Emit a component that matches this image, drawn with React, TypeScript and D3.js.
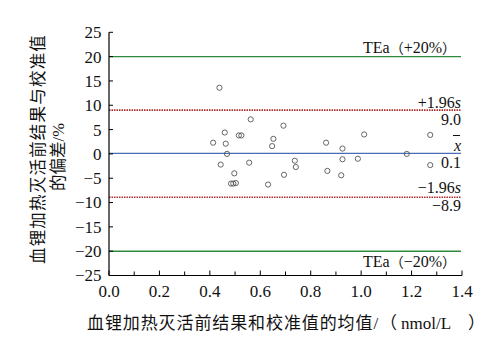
import React from "react";
import * as d3 from "d3";

const xTicks = [0, 0.2, 0.4, 0.6, 0.8, 1.0, 1.2, 1.4];
const yTicks = [25, 20, 15, 10, 5, 0, -5, -10, -15, -20, -25];
const pointX = [0.438, 0.562, 0.692, 0.459, 0.515, 0.525, 0.413, 0.463, 0.652, 0.647, 0.468, 0.443, 0.556, 0.497, 0.694, 0.484, 0.493, 0.503, 0.631, 1.012, 0.861, 0.926, 0.737, 0.741, 0.926, 0.987, 0.866, 0.921, 1.274, 1.181, 1.274];
const pointY = [13.6, 7.1, 5.8, 4.4, 3.8, 3.8, 2.3, 2.1, 3.1, 1.6, 0.0, -2.2, -1.8, -4.0, -4.3, -6.1, -6.1, -6.0, -6.3, 4.0, 2.3, 1.1, -1.4, -2.7, -1.1, -1.0, -3.5, -4.4, 3.9, 0.0, -2.3];
const meanBias = 0.1;
const upperLoA = 9.0;
const lowerLoA = -8.9;
const teaUpper = 20;
const teaLower = -20;

const serif = "'Liberation Serif', 'Times New Roman', serif";
const cjk = "'Noto Sans CJK SC', sans-serif";

export default function App() {
  const x = d3.scaleLinear().domain([0, 1.4]).range([109, 462]);
  const y = d3.scaleLinear().domain([-25, 25]).range([275.5, 32.3]);
  const minor = d3.range(0, 1.41, 0.1);
  const xEnd = 461;
  const fmt = (v: number) => (v < 0 ? "\u2212" + Math.abs(v) : String(v));
  const fs = 17;
  const lf = 16;
  return (
    <svg width={487} height={342} style={{ position: "absolute", left: 0, top: 0, background: "#fff" }} fontFamily={serif}>
      {/* reference lines */}
      <line x1={x(0)} x2={xEnd} y1={y(teaUpper)} y2={y(teaUpper)} stroke="#2e8b3e" strokeWidth={1.4} />
      <line x1={x(0)} x2={xEnd} y1={y(teaLower)} y2={y(teaLower)} stroke="#2e8b3e" strokeWidth={1.4} />
      <line x1={x(0)} x2={xEnd} y1={y(upperLoA)} y2={y(upperLoA)} stroke="#b22a2a" strokeWidth={1.6} strokeDasharray="1.5,1" />
      <line x1={x(0)} x2={xEnd} y1={y(lowerLoA)} y2={y(lowerLoA)} stroke="#b22a2a" strokeWidth={1.6} strokeDasharray="1.5,1" />
      <line x1={x(0)} x2={xEnd} y1={y(meanBias)} y2={y(meanBias)} stroke="#4a6db5" strokeWidth={1.4} />

      {/* points */}
      {pointX.map((px, i) => (
        <circle key={i} cx={x(px)} cy={y(pointY[i])} r={2.6} fill="none" stroke="#555" strokeWidth={0.9} />
      ))}

      {/* axes */}
      <line x1={x(0)} x2={x(0)} y1={y(25)} y2={y(-25)} stroke="#000" strokeWidth={1.2} />
      <line x1={x(0)} x2={x(1.4)} y1={y(-25)} y2={y(-25)} stroke="#000" strokeWidth={1.2} />
      {yTicks.map((t) => (
        <g key={t}>
          <line x1={x(0)} x2={x(0) + 4} y1={y(t)} y2={y(t)} stroke="#000" strokeWidth={1} />
          <text x={101.5} y={y(t)} dy="0.35em" textAnchor="end" fontSize={fs} fill="#111">{fmt(t)}</text>
        </g>
      ))}
      {minor.map((t, i) => (
        <line key={i} x1={x(t)} x2={x(t)} y1={y(-25)} y2={y(-25) - (i % 2 === 0 ? 5 : 4)} stroke="#000" strokeWidth={1} />
      ))}
      {xTicks.map((t) => (
        <text key={t} x={x(t)} y={296.5} textAnchor="middle" fontSize={fs} fill="#111">{t.toFixed(1)}</text>
      ))}

      {/* right-side labels */}
      <text x={xEnd - 5} y={53} textAnchor="end" fontSize={lf} fill="#111">
        <tspan>TEa</tspan><tspan fontFamily={cjk} fontSize={14}>（</tspan><tspan>+20%</tspan><tspan fontFamily={cjk} fontSize={14}>）</tspan>
      </text>
      <text x={xEnd} y={108} textAnchor="end" fontSize={lf} fill="#111">
        <tspan>+1.96</tspan><tspan fontStyle="italic">s</tspan>
      </text>
      <text x={xEnd} y={124.5} textAnchor="end" fontSize={lf} fill="#111">9.0</text>
      <line x1={xEnd - 8} x2={xEnd - 1} y1={135.5} y2={135.5} stroke="#111" strokeWidth={1} />
      <text x={xEnd} y={150.5} textAnchor="end" fontSize={lf} fontStyle="italic" fill="#111">x</text>
      <text x={xEnd} y={168} textAnchor="end" fontSize={lf} fill="#111">0.1</text>
      <text x={xEnd} y={193} textAnchor="end" fontSize={lf} fill="#111">
        <tspan>{"\u22121.96"}</tspan><tspan fontStyle="italic">s</tspan>
      </text>
      <text x={xEnd} y={211} textAnchor="end" fontSize={lf} fill="#111">{"\u22128.9"}</text>
      <text x={xEnd - 5} y={266.5} textAnchor="end" fontSize={lf} fill="#111">
        <tspan>TEa</tspan><tspan fontFamily={cjk} fontSize={14}>（</tspan><tspan>{"\u221220%"}</tspan><tspan fontFamily={cjk} fontSize={14}>）</tspan>
      </text>

      {/* axis titles */}
      <text x={87} y={329} fontSize={17} fill="#111">
        <tspan fontFamily={cjk} letterSpacing={0.9}>血锂加热灭活前结果和校准值的均值</tspan>
        <tspan>/</tspan>
      </text>
      <text x={380} y={329} fontSize={17} fontFamily={cjk} fill="#111">（</text>
      <text x={401} y={329} fontSize={17} fill="#111">nmol/L</text>
      <text x={468} y={329} fontSize={17} fontFamily={cjk} fill="#111">）</text>
      <g transform="translate(38,149) rotate(-90)">
        <text x={0} y={0} dy="0.35em" textAnchor="middle" fontSize={16.5} fontFamily={cjk} letterSpacing={1.2} fill="#111">血锂加热灭活前结果与校准值</text>
      </g>
      <g transform="translate(58,157) rotate(-90)">
        <text x={0} y={0} dy="0.35em" textAnchor="middle" fontSize={16.5} fill="#111">
          <tspan fontFamily={cjk}>的偏差</tspan><tspan>/%</tspan>
        </text>
      </g>
    </svg>
  );
}
